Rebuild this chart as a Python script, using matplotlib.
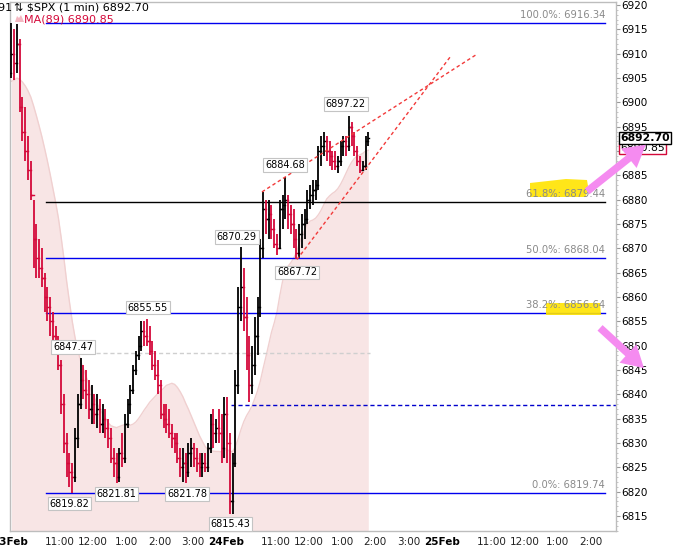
import matplotlib
matplotlib.use("Agg")
import matplotlib.pyplot as plt
import numpy as np
import pandas as pd
from matplotlib.patches import FancyArrowPatch, Polygon

plt.rcParams['font.family'] = ['DejaVu Sans']

# ---------------- data (5-minute bars) ----------------
day1_high = [6916.3, 6915, 6916, 6913, 6901, 6899, 6893, 6888, 6880, 6875,
             6872, 6870, 6865, 6862, 6860, 6857, 6854, 6852, 6847, 6840,
             6832, 6828, 6826, 6833, 6840, 6847.5, 6846, 6845, 6843, 6842,
             6840, 6840, 6839, 6838, 6837, 6835, 6833, 6829, 6828, 6829,
             6832, 6836, 6839, 6842, 6846, 6849, 6852, 6855, 6855, 6855.55,
             6854, 6851, 6849, 6847, 6843, 6838, 6838, 6837, 6834, 6832,
             6832, 6829, 6829, 6828, 6830, 6831, 6830, 6829, 6828, 6828,
             6828, 6830, 6836, 6837, 6835, 6837, 6836, 6839.5]
day1_low = [6905, 6904.5, 6906, 6898, 6892, 6888, 6884, 6880, 6866, 6864,
            6864, 6862, 6857, 6855, 6852, 6850, 6849, 6845, 6836, 6828,
            6823, 6821, 6819.82, 6822, 6829, 6837, 6839, 6837, 6835, 6834,
            6834, 6833, 6832, 6832, 6831, 6829, 6826, 6823, 6821.81, 6822,
            6825, 6826, 6833, 6836, 6840, 6844, 6847, 6849, 6850, 6850,
            6848, 6845, 6843, 6840, 6835, 6833, 6832, 6831, 6829, 6828,
            6826, 6823, 6822, 6821.78, 6823, 6825, 6825, 6824, 6823, 6823,
            6824, 6824, 6828, 6829, 6830, 6830, 6826, 6827]
day1_close = [6910, 6908, 6912, 6899, 6894, 6890, 6886, 6881, 6872, 6868,
              6866, 6864, 6860, 6858, 6855, 6852, 6851, 6846, 6838, 6830,
              6826, 6824, 6823, 6831, 6838, 6843, 6841, 6840, 6837, 6838,
              6836, 6837, 6834, 6835, 6833, 6831, 6827, 6826, 6823, 6828,
              6827, 6834, 6838, 6841, 6845, 6848, 6850, 6853, 6852, 6851,
              6849, 6846, 6844, 6842, 6836, 6835, 6834, 6832, 6831, 6830,
              6827, 6825, 6826, 6824, 6828, 6829, 6827, 6826, 6825, 6826,
              6825, 6829, 6834, 6832, 6833, 6832, 6829, 6836]
day2_high = [6839.5, 6832, 6828, 6845, 6862, 6870.29, 6866, 6860, 6852, 6850,
             6856, 6860, 6872, 6881.6, 6880, 6880, 6879, 6876, 6873, 6880,
             6881, 6884.68, 6881, 6879, 6878, 6874, 6875, 6877, 6878, 6882,
             6883, 6884, 6884, 6891, 6893, 6894, 6893, 6892, 6890, 6890,
             6889, 6892, 6893, 6893, 6897.22, 6896, 6894, 6891, 6889, 6888,
             6893, 6894]
day2_low = [6826, 6815.43, 6815.5, 6825, 6840, 6855, 6853, 6845, 6838.4, 6840,
            6844, 6848, 6856, 6868, 6873, 6872, 6872, 6870, 6868.6, 6870,
            6874, 6876, 6874, 6873, 6870, 6867.72, 6868, 6870, 6872, 6875,
            6878, 6879, 6880, 6882, 6887, 6889, 6888, 6887, 6886, 6886,
            6885.5, 6887, 6889, 6889, 6890, 6891, 6889, 6887, 6885.5, 6885.8,
            6886, 6891]
day2_close = [6830, 6818, 6826, 6842, 6858, 6862, 6856, 6848, 6842, 6846,
              6852, 6858, 6870, 6878, 6876, 6877, 6874, 6871, 6870, 6878,
              6879, 6880, 6877, 6875, 6872, 6869, 6873, 6875, 6876, 6880,
              6881, 6882, 6883, 6890, 6891, 6892, 6890, 6889, 6888, 6887,
              6888, 6891, 6892, 6891, 6895, 6893, 6890, 6888, 6886, 6887,
              6892, 6892.70]
first_open = 6906.0
ma_seed = 6904.0          # MA(89) level at the open (from prior session)
ma_last = 6890.85
last_price = 6892.70

fib_pct = ["100.0%", "61.8%", "50.0%", "38.2%", "0.0%"]
fib_val = [6916.34, 6879.44, 6868.04, 6856.64, 6819.74]
fib_col = ["#0000ee", "#000000", "#0000ee", "#0000ee", "#0000ee"]

peak_labels = [("6897.22", 607, 6897.22, 12), ("6884.68", 497, 6884.68, 12),
               ("6870.29", 410, 6870.29, 10), ("6867.72", 519, 6867.72, -13),
               ("6855.55", 249, 6855.55, 11), ("6847.47", 114, 6847.47, 11),
               ("6819.82", 107, 6819.82, -11), ("6821.81", 193, 6821.81, -11),
               ("6821.78", 320, 6821.78, -11), ("6815.43", 399, 6815.43, -10)]

tick_pos = [0, 90, 150, 210, 270, 330, 390, 480, 540, 600, 660, 720, 780, 870, 930, 990, 1050]
tick_lab = ["23Feb", "11:00", "12:00", "1:00", "2:00", "3:00", "24Feb", "11:00", "12:00",
            "1:00", "2:00", "3:00", "25Feb", "11:00", "12:00", "1:00", "2:00"]

# trend lines (minutes, price)
trend1 = ([455.4, 844.0], [6881.6, 6909.9])
trend2 = ([518.7, 795.3], [6867.72, 6909.3])

# ---------------- figure ----------------
W, H = 674, 546
fig = plt.figure(figsize=(W / 100, H / 100), dpi=100)
fig.patch.set_facecolor("white")
L, R, T, B = 10, 616, 2, 531
ax = fig.add_axes([L / W, 1 - B / H, (R - L) / W, (B - T) / H])

def fpx(x, y):
    return (x / W, 1 - y / H)

highs = np.array(day1_high + day2_high)
lows = np.array(day1_low + day2_low)
closes = np.array(day1_close + day2_close)
opens = np.concatenate([[first_open], closes[:-1]])
n1 = len(day1_close)
xs = np.concatenate([np.arange(n1) * 5 + 2.5, 390 + np.arange(len(day2_close)) * 5 + 2.5])

ymin, ymax = 6811.93, 6920.62
ax.set_xlim(0, 1095.2)
ax.set_ylim(ymin, ymax)

# MA(89) on 1-min ~ 18 five-minute bars
ma = pd.Series(np.concatenate([[ma_seed] * 17, closes])).rolling(18).mean().values[17:]
ax.fill_between(xs, ma, ymin, color="#f8e5e5", zorder=0, lw=0)
ax.plot(xs, ma, color="#f0d0d0", lw=1.0, zorder=0.5)

# fib lines
for p, v, c in zip(fib_pct, fib_val, fib_col):
    ax.plot([65, 1075.4], [v, v], color=c, lw=1.0, zorder=2)
    ax.annotate(f"{p}: {v:.2f}", xy=(1075.4, v), xytext=(0, 3), textcoords="offset pixels",
                ha="right", va="bottom", fontsize=7.2, color="#8a8a8a", zorder=6)

# dashed reference lines
ax.plot([155, 650], [6848.6, 6848.6], color="#cfcfcf", lw=1.0, ls=(0, (3, 2)), zorder=1)
ax.plot([400, 1095.2], [6837.8, 6837.8], color="#0000cc", lw=1.0, ls=(0, (3, 2)), zorder=2)

# bars
up_col, dn_col = "#000000", "#d4093a"
for x, o, h, l, c in zip(xs, opens, highs, lows, closes):
    col = up_col if c >= o else dn_col
    ax.plot([x, x], [l, h], color=col, lw=1.3, solid_capstyle="butt", zorder=3)
    ax.plot([x - 2.2, x], [o, o], color=col, lw=1.0, zorder=3)
    ax.plot([x, x + 2.2], [c, c], color=col, lw=1.0, zorder=3)

# trend lines
for tx, ty in (trend1, trend2):
    ax.plot(tx, ty, color="#f23a3a", lw=1.0, ls=(0, (2.5, 2)), zorder=4)

# peak / trough labels
for txt, m, v, off in peak_labels:
    ax.annotate(txt, xy=(m, v), xytext=(0, off), textcoords="offset pixels",
                ha="center", va="center", fontsize=7, color="black", zorder=7,
                bbox=dict(boxstyle="square,pad=0.18", fc="white", ec="#c4c4c4", lw=0.8))

# axes styling
for s in ax.spines.values():
    s.set_color("#bdbdbd")
    s.set_linewidth(1.0)
ax.yaxis.tick_right()
ax.set_yticks(np.arange(6815, 6921, 5))
ax.set_yticks(np.arange(6812, 6921, 1), minor=True)
ax.tick_params(axis="y", which="major", length=3, width=0.8, color="#999999",
               labelsize=7.5, pad=1, labelcolor="black")
ax.tick_params(axis="y", which="minor", length=1.5, width=0.6, color="#bbbbbb")
ax.set_xticks(tick_pos)
ax.set_xticklabels(tick_lab)
ax.tick_params(axis="x", length=0, labelsize=7.5, pad=4, labelcolor="#222222")
for lab in ax.get_xticklabels():
    if "Feb" in lab.get_text():
        lab.set_fontweight("bold")
        lab.set_color("black")

# yellow highlights
hl1 = Polygon([fpx(530, 197), fpx(530, 183), fpx(548, 181), fpx(566, 179), fpx(587, 180),
               fpx(588, 186), fpx(586, 197)], closed=True, transform=fig.transFigure,
              fc="#ffe400", ec="none", alpha=0.9, zorder=5)
hl2 = Polygon([fpx(546, 315), fpx(546, 303), fpx(600, 303), fpx(601, 315)], closed=True,
              transform=fig.transFigure, fc="#ffe400", ec="none", alpha=0.9, zorder=5)
ax.add_artist(hl1)
ax.add_artist(hl2)

# legend header
fig.text(*fpx(12, 8), "691", fontsize=8, va="center", ha="right", color="black")
fig.text(*fpx(14, 8), f"\u21c5 $SPX (1 min) {last_price:.2f}", fontsize=8, va="center",
         ha="left", color="black")
icon = Polygon([fpx(15, 22), fpx(17, 16), fpx(19, 18), fpx(21, 15), fpx(24, 22)],
               closed=True, transform=fig.transFigure, fc="#f4b8c2", ec="none")
fig.add_artist(icon)
fig.text(*fpx(24, 19), f"MA(89) {ma_last:.2f}", fontsize=8, va="center", ha="left",
         color="#d4093a")

# price tags on the right axis
def ypx(v):
    return T + (ymax - v) / (ymax - ymin) * (B - T)

fig.text(*fpx(620, ypx(ma_last) + 1.5), f"{ma_last:.2f}", fontsize=7.8, va="center",
         ha="left", zorder=9,
         bbox=dict(boxstyle="square,pad=0.08", fc="white", ec="#d4093a", lw=1.0))
fig.text(*fpx(620, ypx(last_price)), f"{last_price:.2f}", fontsize=7.8, fontweight="bold",
         va="center", ha="left", zorder=10,
         bbox=dict(boxstyle="square,pad=0.12", fc="white", ec="black", lw=1.0))

# pink arrows
for a, b in (((585, 193), (648, 143)), ((598, 326), (646, 370))):
    fig.add_artist(FancyArrowPatch(fpx(*a), fpx(*b), transform=fig.transFigure,
                                   arrowstyle="simple,head_length=1.3,head_width=1.5,tail_width=0.45",
                                   mutation_scale=12, color="#f58bf0", lw=0, zorder=12))

fig.savefig("out.png", dpi=100)
